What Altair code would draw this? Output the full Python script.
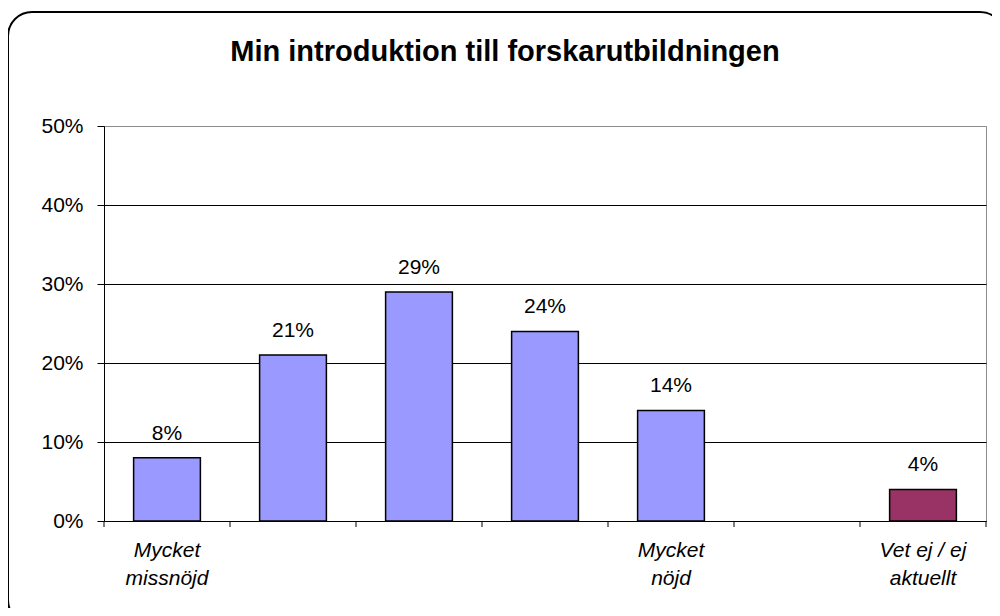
import altair as alt
import pandas as pd

categories = ["Mycket|missnöjd", "2", "3", "4", "Mycket|nöjd", "6", "Vet ej / ej|aktuellt"]
bar_categories = ["Mycket|missnöjd", "2", "3", "4", "Mycket|nöjd", "Vet ej / ej|aktuellt"]
values = [0.08, 0.21, 0.29, 0.24, 0.14, 0.04]
groups = ["main", "main", "main", "main", "main", "other"]
title_text = "Min introduktion till forskarutbildningen"

df = pd.DataFrame({"cat": bar_categories, "val": values, "grp": groups})
ticks_df = pd.DataFrame({"cat": categories})

FONT = "Liberation Sans"
W, H = 882, 395

x_scale = alt.Scale(domain=categories, paddingInner=0, paddingOuter=0)

x_enc = alt.X(
    "cat:N",
    sort=categories,
    scale=x_scale,
    axis=alt.Axis(
        title=None,
        labelAngle=0,
        labelFont=FONT,
        labelFontSize=21,
        labelFontStyle="italic",
        labelColor="black",
        labelLineHeight=28,
        labelPadding=18,
        labelExpr="length(datum.value) < 2 ? '' : split(datum.value, '|')",
        ticks=False,
        domainColor="black",
        grid=False,
    ),
)

y_enc = alt.Y(
    "val:Q",
    scale=alt.Scale(domain=[0, 0.5]),
    axis=alt.Axis(
        title=None,
        values=[0, 0.1, 0.2, 0.3, 0.4, 0.5],
        format=".0%",
        labelFont=FONT,
        labelFontSize=21,
        labelColor="black",
        labelPadding=14,
        tickSize=7,
        tickColor="black",
        domainColor="black",
        gridColor={"condition": {"test": "datum.value >= 0.5", "value": "#8c8c8c"}, "value": "black"},
        gridWidth=1,
    ),
)

bars = alt.Chart(df).mark_bar(
    width={"band": 0.53}, stroke="black", strokeWidth=1.5
).encode(
    x=x_enc,
    y=y_enc,
    color=alt.Color(
        "grp:N",
        scale=alt.Scale(domain=["main", "other"], range=["#9999FF", "#993366"]),
        legend=None,
    ),
)

labels = alt.Chart(df).mark_text(
    font=FONT, fontSize=21, baseline="alphabetic", dy=-18, color="black"
).encode(
    x=alt.X("cat:N", sort=categories),
    y="val:Q",
    text=alt.Text("val:Q", format=".0%"),
)

xticks = alt.Chart(ticks_df).mark_rule(color="black", strokeWidth=1).encode(
    x=alt.X("cat:N", sort=categories, bandPosition=0),
    y=alt.value(H),
    y2=alt.value(H + 6),
)

one = pd.DataFrame({"a": [0]})

end_tick = alt.Chart(one).mark_rule(color="black", strokeWidth=1).encode(
    x=alt.value(W), y=alt.value(H), y2=alt.value(H + 6)
)

title = alt.Chart(one).mark_text(
    text=title_text, font=FONT, fontSize=29, fontWeight="bold",
    align="center", baseline="alphabetic", color="black"
).encode(x=alt.value(401), y=alt.value(-65))

frame = alt.Chart(one).mark_rect(
    fill="transparent", stroke="black", strokeWidth=2, cornerRadius=24
).encode(
    x=alt.value(-96), x2=alt.value(900), y=alt.value(-114), y2=alt.value(498)
)

chart = alt.layer(bars, labels, xticks, end_tick, title, frame).properties(
    width=W,
    height=H,
    autosize=alt.AutoSizeParams(type="none"),
    padding={"left": 96, "top": 118, "right": 6, "bottom": 87},
).configure_view(
    stroke="#8c8c8c", strokeWidth=1
)

chart.save("out.html", embed_options={"renderer": "svg", "actions": False})
